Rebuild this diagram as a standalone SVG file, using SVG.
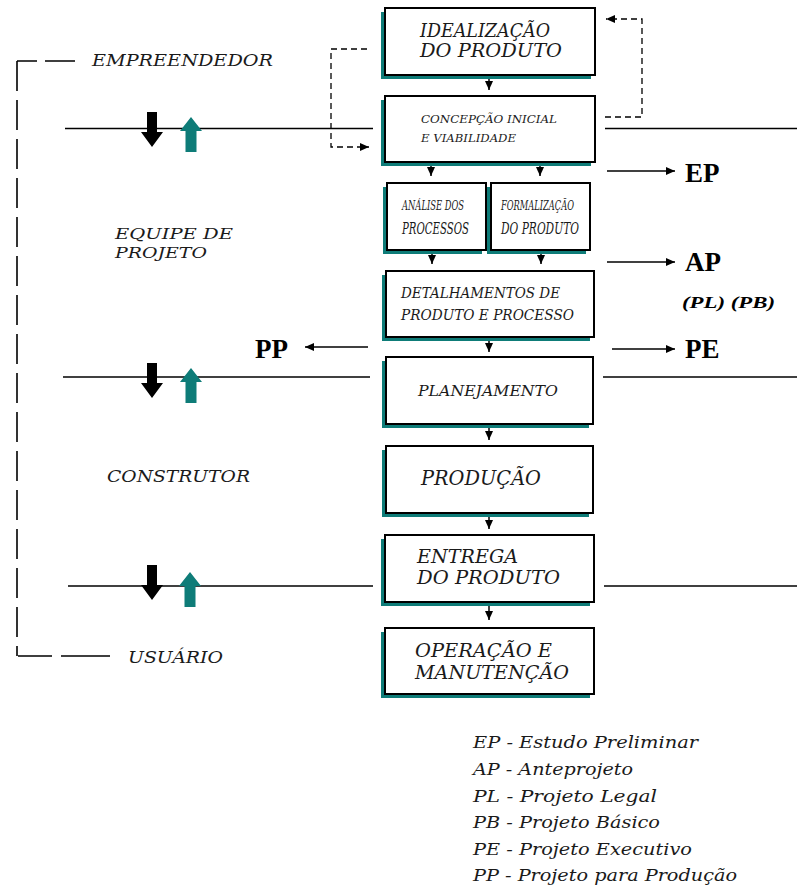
<svg xmlns="http://www.w3.org/2000/svg" xmlns:xlink="http://www.w3.org/1999/xlink" width="797" height="891" viewBox="0 0 797 891">
<style>
.box{fill:#fff;stroke:#000;stroke-width:2}
.sh{fill:#0e7c78}
.t{font-family:'DejaVu Serif','Liberation Serif',serif;font-style:italic;fill:#1a1a1a}
.b{font-family:'Liberation Serif','Times New Roman',serif;font-weight:bold;fill:#000}
.ln{stroke:#000;stroke-width:1.6;fill:none}
.ar{stroke:#000;stroke-width:1.5;fill:none;marker-end:url(#ah)}
.dash{stroke:#000;stroke-width:1.3;stroke-dasharray:6 4;fill:none}
.ldash{stroke:#000;stroke-width:1.6;fill:none}
</style>
<defs>
<marker id="ah" markerUnits="userSpaceOnUse" markerWidth="9" markerHeight="8" refX="9" refY="4" orient="auto">
<path d="M0,0 L9,4 L0,8 Z" fill="#000"/>
</marker>
<path id="down" d="M-5,0 H5 V20 H11 L0,35 L-11,20 H-5 Z" fill="#000"/>
<path id="up" d="M0,0 L11,14 H5.5 V35 H-5.5 V14 H-11 Z" fill="#0e7c78"/>
</defs>
<rect width="797" height="891" fill="#fff"/>

<g id="connectors">
<line class="ln" x1="65" y1="128.5" x2="373" y2="128.5"/>
<line class="ln" x1="605" y1="128.5" x2="797" y2="128.5"/>
<line class="ln" x1="63" y1="377" x2="370" y2="377"/>
<line class="ln" x1="603" y1="377" x2="797" y2="377"/>
<line class="ln" x1="68" y1="586" x2="373" y2="586"/>
<line class="ln" x1="604" y1="586" x2="797" y2="586"/>
<path class="ar" d="M489,76 V90"/>
<path class="ar" d="M431,162 V176"/>
<path class="ar" d="M540,162 V176"/>
<path class="ar" d="M432,251 V264"/>
<path class="ar" d="M541,251 V264"/>
<path class="ar" d="M489,338 V352"/>
<path class="ar" d="M489,425 V440"/>
<path class="ar" d="M489,514 V529"/>
<path class="ar" d="M489,603 V620"/>
<path class="dash" d="M367,49 H331 V147 H369" marker-end="url(#ah)"/>
<path class="dash" d="M605,117 H642 V19 H606" marker-end="url(#ah)"/>
<path class="ar" d="M607,171 H675"/>
<path class="ar" d="M607,262 H675"/>
<path class="ar" d="M612,349 H675"/>
<path class="ar" d="M368,347 H305"/>
<g id="bracket" class="ldash">
<path d="M17,61 H37 M45,61 H75"/>
<path d="M17,61 V656" stroke-dasharray="30 9"/>
<path d="M18,656 H52 M61,656 H110"/>
</g>
<g id="exchange-arrows">
<use xlink:href="#down" href="#down" transform="translate(152,112)"/>
<use xlink:href="#up" href="#up" transform="translate(191,117)"/>
<use xlink:href="#down" href="#down" transform="translate(152,363)"/>
<use xlink:href="#up" href="#up" transform="translate(191,368)"/>
<use xlink:href="#down" href="#down" transform="translate(152,565)"/>
<use xlink:href="#up" href="#up" transform="translate(190,572)"/>
</g>
</g>

<g id="n-idealizacao">
<rect class="sh" x="381" y="12" width="210" height="67"/>
<rect class="box" x="385" y="8" width="210" height="67"/>
<text class="t" x="420" y="37" font-size="19" textLength="130" lengthAdjust="spacingAndGlyphs">IDEALIZAÇÃO</text>
<text class="t" x="420" y="57" font-size="19" textLength="142" lengthAdjust="spacingAndGlyphs">DO PRODUTO</text>
</g>
<g id="n-concepcao">
<rect class="sh" x="381" y="100" width="210" height="66"/>
<rect class="box" x="385" y="96" width="210" height="66"/>
<text class="t" x="421" y="123" font-size="11" textLength="136" lengthAdjust="spacingAndGlyphs">CONCEPÇÃO INICIAL</text>
<text class="t" x="421" y="142" font-size="11" textLength="95" lengthAdjust="spacingAndGlyphs">E VIABILIDADE</text>
</g>
<g id="n-analise">
<rect class="sh" x="383" y="187" width="99" height="67"/>
<rect class="box" x="387" y="183" width="99" height="67"/>
<text class="t" x="402" y="210" font-size="12" textLength="62" lengthAdjust="spacingAndGlyphs">ANÁLISE DOS</text>
<text class="t" x="402" y="234" font-size="16" textLength="67" lengthAdjust="spacingAndGlyphs">PROCESSOS</text>
</g>
<g id="n-formalizacao">
<rect class="sh" x="487" y="187" width="99" height="67"/>
<rect class="box" x="491" y="183" width="99" height="67"/>
<text class="t" x="501" y="210" font-size="12" textLength="73" lengthAdjust="spacingAndGlyphs">FORMALIZAÇÃO</text>
<text class="t" x="501" y="234" font-size="16" textLength="78" lengthAdjust="spacingAndGlyphs">DO PRODUTO</text>
</g>
<g id="n-detalhamentos">
<rect class="sh" x="382" y="275" width="208" height="66"/>
<rect class="box" x="386" y="271" width="208" height="66"/>
<text class="t" x="401" y="298" font-size="14" textLength="159" lengthAdjust="spacingAndGlyphs">DETALHAMENTOS DE</text>
<text class="t" x="401" y="320" font-size="14" textLength="173" lengthAdjust="spacingAndGlyphs">PRODUTO E PROCESSO</text>
</g>
<g id="n-planejamento">
<rect class="sh" x="382" y="361" width="207" height="67"/>
<rect class="box" x="386" y="357" width="207" height="67"/>
<text class="t" x="418" y="396" font-size="15" textLength="140" lengthAdjust="spacingAndGlyphs">PLANEJAMENTO</text>
</g>
<g id="n-producao">
<rect class="sh" x="382" y="450" width="207" height="67"/>
<rect class="box" x="386" y="446" width="207" height="67"/>
<text class="t" x="421" y="485" font-size="20" textLength="120" lengthAdjust="spacingAndGlyphs">PRODUÇÃO</text>
</g>
<g id="n-entrega">
<rect class="sh" x="381" y="539" width="209" height="67"/>
<rect class="box" x="385" y="535" width="209" height="67"/>
<text class="t" x="417" y="563" font-size="19" textLength="101" lengthAdjust="spacingAndGlyphs">ENTREGA</text>
<text class="t" x="417" y="584" font-size="19" textLength="143" lengthAdjust="spacingAndGlyphs">DO PRODUTO</text>
</g>
<g id="n-operacao">
<rect class="sh" x="381" y="632" width="209" height="66"/>
<rect class="box" x="385" y="628" width="209" height="66"/>
<text class="t" x="415" y="657" font-size="19" textLength="137" lengthAdjust="spacingAndGlyphs">OPERAÇÃO E</text>
<text class="t" x="415" y="679" font-size="19" textLength="154" lengthAdjust="spacingAndGlyphs">MANUTENÇÃO</text>
</g>

<g id="actors">
<text class="t" x="92" y="66" font-size="17" textLength="181" lengthAdjust="spacingAndGlyphs">EMPREENDEDOR</text>
<text class="t" x="115" y="239" font-size="15.5" textLength="118" lengthAdjust="spacingAndGlyphs">EQUIPE DE</text>
<text class="t" x="115" y="258" font-size="15.5" textLength="92" lengthAdjust="spacingAndGlyphs">PROJETO</text>
<text class="t" x="107" y="482" font-size="17" textLength="143" lengthAdjust="spacingAndGlyphs">CONSTRUTOR</text>
<text class="t" x="128" y="663" font-size="17" textLength="95" lengthAdjust="spacingAndGlyphs">USUÁRIO</text>
</g>

<g id="outputs">
<text class="b" x="685" y="182" font-size="27">EP</text>
<text class="b" x="685" y="271" font-size="27">AP</text>
<text class="b" x="682" y="308" font-size="16" font-style="italic" textLength="93" lengthAdjust="spacingAndGlyphs">(PL)  (PB)</text>
<text class="b" x="685" y="358" font-size="27">PE</text>
<text class="b" x="255" y="358" font-size="27">PP</text>
</g>

<g id="legend">
<text class="t" x="473" y="748" font-size="16" textLength="225" lengthAdjust="spacingAndGlyphs">EP - Estudo Preliminar</text>
<text class="t" x="473" y="775" font-size="16" textLength="160" lengthAdjust="spacingAndGlyphs">AP - Anteprojeto</text>
<text class="t" x="473" y="802" font-size="16" textLength="184" lengthAdjust="spacingAndGlyphs">PL - Projeto Legal</text>
<text class="t" x="473" y="828" font-size="16" textLength="187" lengthAdjust="spacingAndGlyphs">PB - Projeto Básico</text>
<text class="t" x="473" y="855" font-size="16" textLength="219" lengthAdjust="spacingAndGlyphs">PE - Projeto Executivo</text>
<text class="t" x="473" y="881" font-size="16" textLength="264" lengthAdjust="spacingAndGlyphs">PP - Projeto para Produção</text>
</g>
</svg>
